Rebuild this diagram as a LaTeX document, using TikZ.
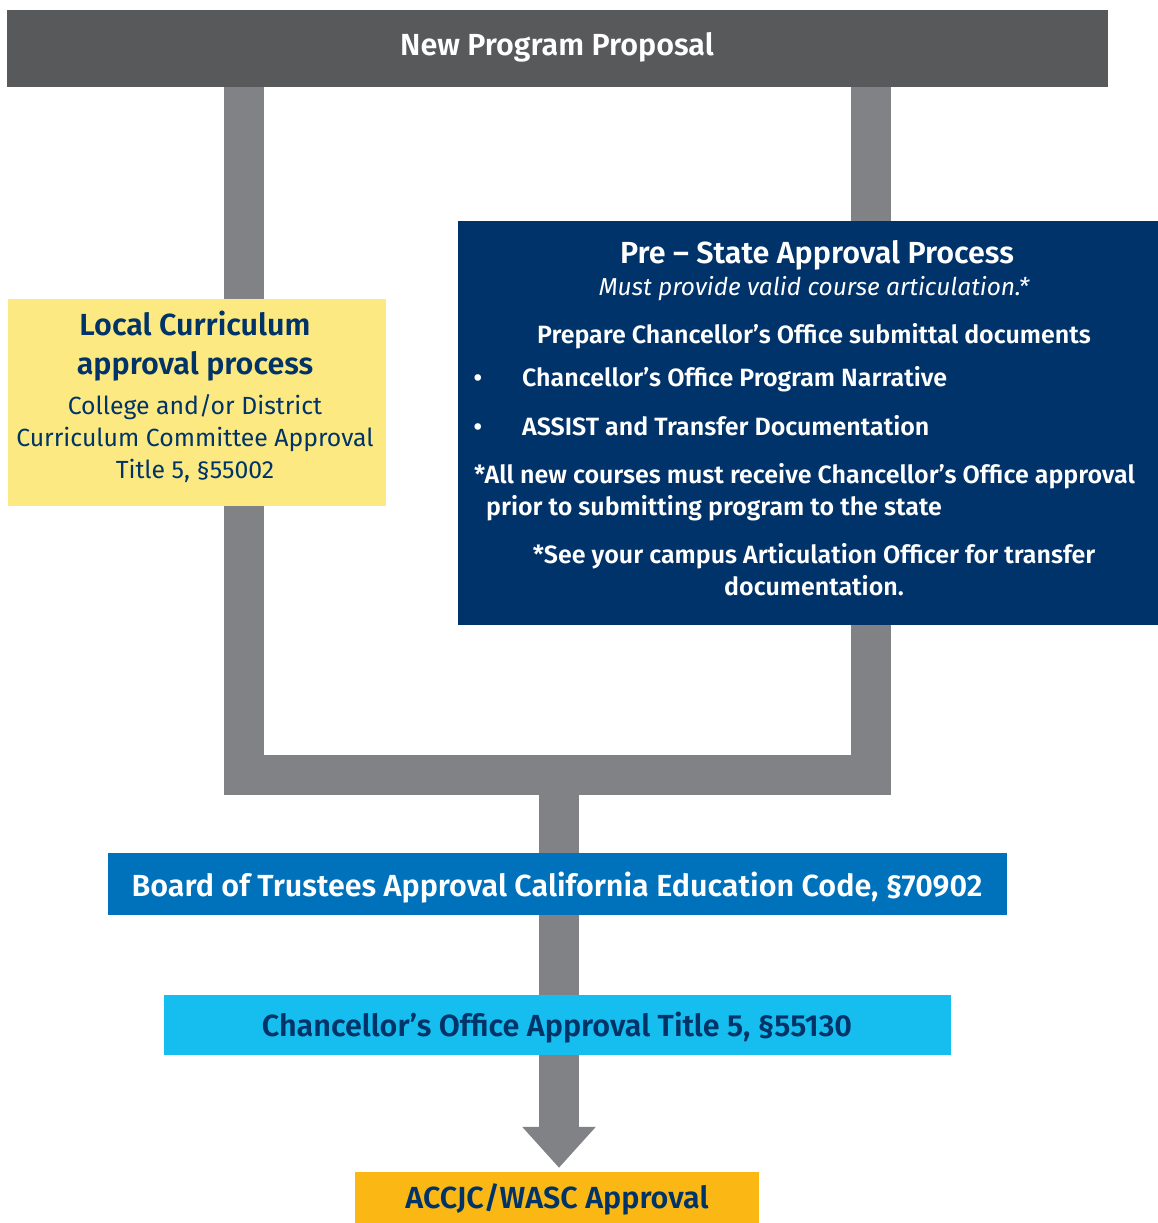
\documentclass[tikz,border=0pt]{standalone}
\usepackage{fontspec}
\setmainfont{Fira Sans}
\newfontfamily\semib{Fira Sans SemiBold}
\usetikzlibrary{backgrounds,arrows.meta}
\definecolor{topgray}{HTML}{58595B}
\definecolor{conngray}{HTML}{808285}
\definecolor{yel}{HTML}{FDE981}
\definecolor{navy}{HTML}{00336A}
\definecolor{bblue}{HTML}{0071BB}
\definecolor{lblue}{HTML}{16BDEF}
\definecolor{orng}{HTML}{FBB814}
\definecolor{tnavy}{HTML}{003468}
\begin{document}
\begin{tikzpicture}[x=1pt,y=-1pt,
  box/.style={rectangle, inner sep=0pt, draw=none},
  txt/.style={inner sep=0pt, anchor=base},
  big/.style={font=\semib\fontsize{30.5}{32}\selectfont},
  reg/.style={font=\fontsize{24.8}{27}\selectfont},
  body/.style={font=\semib\fontsize{25}{27}\selectfont},
  conn/.style={draw=conngray, line width=40pt, line join=miter, line cap=butt}]
\useasboundingbox (0,0) rectangle (1158,1223);
% boxes
\node[box, fill=topgray, minimum width=1101pt, minimum height=77pt] (top) at (557.5,48.5) {};
\node[box, fill=yel, minimum width=378pt, minimum height=207pt] (local) at (197,402.5) {};
\node[box, fill=navy, minimum width=700pt, minimum height=404pt] (pre) at (808,423) {};
\node[box, fill=bblue, minimum width=899pt, minimum height=62pt] (board) at (557.5,884) {};
\node[box, fill=lblue, minimum width=787pt, minimum height=60pt] (chanc) at (557.5,1025) {};
\node[box, fill=orng, minimum width=404pt, minimum height=51pt] (acc) at (557,1197.5) {};
% connectors
\coordinate (jl) at (244,775);
\coordinate (jr) at (871,775);
\coordinate (jm) at (559,775);
\begin{pgfonlayer}{background}
\draw[conn] (top.south -| jl) -- (jl) -- (jr) -- (top.south -| jr);
\draw[conn] (jm) -- (board.center -| jm);
\draw[conn] (board.center -| jm) -- (chanc.center -| jm);
\draw[conn, -{Triangle[width=71pt,length=41pt]}, shorten >=4pt] (chanc.center -| jm) -- (acc.north -| jm);
\end{pgfonlayer}
% texts
\node[txt, text=white, big] (ttop) at (557,56) {New Program Proposal};
\node[txt, text=tnavy, big] (l1) at (195,335) {Local Curriculum};
\node[txt, text=tnavy, big] (l2) at (195,374) {approval process};
\node[txt, text=tnavy, reg] (l3) at (195,414) {College and/or District};
\node[txt, text=tnavy, reg] (l4) at (195,446) {Curriculum Committee Approval};
\node[txt, text=tnavy, reg] (l5) at (195,478) {Title 5, §55002};
\node[txt, text=white, big] (p1) at (817,263) {Pre – State Approval Process};
\node[txt, text=white, font=\itshape\fontsize{24.5}{26}\selectfont] (p2) at (814,295) {Must provide valid course articulation.*};
\node[txt, text=white, body] (p3) at (814,343) {Prepare Chancellor’s Office submittal documents};
\node[txt, text=white, body] (b1) at (478,386) {•};
\node[txt, anchor=base west, text=white, body] (p4) at (522,386) {Chancellor’s Office Program Narrative};
\node[txt, text=white, body] (b2) at (478,435) {•};
\node[txt, anchor=base west, text=white, body] (p5) at (522,435) {ASSIST and Transfer Documentation};
\node[txt, anchor=base west, text=white, body] (p6) at (474,483) {*All new courses must receive Chancellor’s Office approval};
\node[txt, anchor=base west, text=white, body] (p7) at (486,515) {prior to submitting program to the state};
\node[txt, text=white, body] (p8) at (814,563) {*See your campus Articulation Officer for transfer};
\node[txt, text=white, body] (p9) at (814,595) {documentation.};
\node[txt, text=white, big] (tb) at (557,896) {Board of Trustees Approval California Education Code, §70902};
\node[txt, text=tnavy, big] (tc) at (557,1036) {Chancellor’s Office Approval Title 5, §55130};
\node[txt, text=tnavy, big] (ta) at (557,1208) {ACCJC/WASC Approval};
\end{tikzpicture}
\end{document}
